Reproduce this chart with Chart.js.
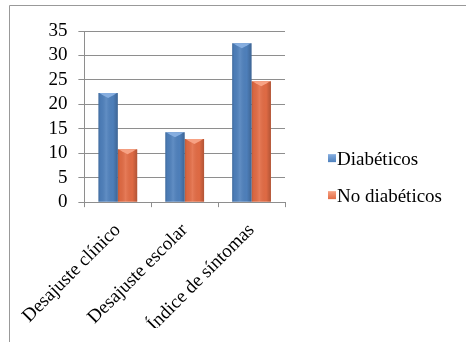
<!DOCTYPE html>
<html>
<head>
<meta charset="utf-8">
<script src="https://cdn.jsdelivr.net/npm/chart.js@4"></script>
<style>
  html, body { margin: 0; padding: 0; background: #fff; }
  canvas { display: block; }
</style>
</head>
<body>
<canvas id="c" width="466" height="342"></canvas>
<script>
// Categories and series values
const categories = ['Desajuste clínico', 'Desajuste escolar', 'Índice de síntomas'];
const seriesNames = ['Diabéticos', 'No diabéticos'];
const diabeticos = [22.3, 14.3, 32.5];
const noDiabeticos = [10.8, 12.9, 24.7];
const yMin = 0;
const yMax = 35;
const yStep = 5;

const FONT = "'Liberation Serif', 'Times New Roman', 'DejaVu Serif', serif";
const GRID = '#8e8e8e';
const BLUE = '#4F81BD';
const ORANGE = '#E36C45';
const BLUE_TOP = '#86AEE0';
const ORANGE_TOP = '#F7A284';

// Outer frame line (top and left edges)
const framePlugin = {
  id: 'frame',
  beforeDraw(chart) {
    const c = chart.ctx;
    c.save();
    c.strokeStyle = '#999';
    c.lineWidth = 1;
    c.beginPath();
    c.moveTo(9.5, chart.height);
    c.lineTo(9.5, 5.5);
    c.lineTo(chart.width, 5.5);
    c.stroke();
    c.restore();
  }
};

// Cylinder-like shading and a lighter top facet on every bar
const barShadePlugin = {
  id: 'barShade',
  afterDatasetsDraw(chart) {
    const c = chart.ctx;
    chart.data.datasets.forEach((ds, di) => {
      const meta = chart.getDatasetMeta(di);
      const topColor = di === 0 ? BLUE_TOP : ORANGE_TOP;
      meta.data.forEach(el => {
        const left = el.x - el.width / 2;
        const right = el.x + el.width / 2;
        const top = el.y;
        const bottom = el.base;
        const g = c.createLinearGradient(left, 0, right, 0);
        g.addColorStop(0, 'rgba(0,0,0,0.16)');
        g.addColorStop(0.12, 'rgba(0,0,0,0.04)');
        g.addColorStop(0.4, 'rgba(255,255,255,0.10)');
        g.addColorStop(0.75, 'rgba(0,0,0,0.02)');
        g.addColorStop(1, 'rgba(0,0,0,0.22)');
        c.save();
        c.fillStyle = g;
        c.fillRect(left, top, right - left, bottom - top);
        c.fillStyle = topColor;
        c.beginPath();
        c.moveTo(left + 1, top);
        c.lineTo(right - 1, top);
        c.lineTo(right - 4, top + 2);
        c.lineTo(el.x, top + 5);
        c.lineTo(left + 4, top + 2);
        c.closePath();
        c.fill();
        c.restore();
      });
    });
  }
};

// Legend to the right of the plot
const sideLegendPlugin = {
  id: 'sideLegend',
  afterDraw(chart) {
    const c = chart.ctx;
    const a = chart.chartArea;
    const x = a.right + 43;
    const rows = [a.bottom - 43, a.bottom - 6];
    c.save();
    c.font = '19px ' + FONT;
    c.textBaseline = 'middle';
    chart.data.datasets.forEach((ds, i) => {
      const y = rows[i];
      const g = c.createLinearGradient(0, y - 5, 0, y + 3);
      g.addColorStop(0, i === 0 ? BLUE_TOP : ORANGE_TOP);
      g.addColorStop(1, ds.backgroundColor);
      c.fillStyle = g;
      c.fillRect(x, y - 5, 8, 8);
      c.fillStyle = '#000';
      c.fillText(ds.label, x + 9, y + 1);
    });
    c.restore();
  }
};

new Chart(document.getElementById('c'), {
  type: 'bar',
  data: {
    labels: categories,
    datasets: [
      { label: seriesNames[0], data: diabeticos, backgroundColor: BLUE },
      { label: seriesNames[1], data: noDiabeticos, backgroundColor: ORANGE }
    ]
  },
  options: {
    responsive: false,
    animation: false,
    layout: { padding: { left: 35, top: 31, right: 181, bottom: 14 } },
    datasets: { bar: { categoryPercentage: 0.58, barPercentage: 1 } },
    plugins: {
      legend: { display: false },
      tooltip: { enabled: false }
    },
    scales: {
      x: {
        // labels sit a little lower than the reserved band; let them hang into the bottom margin
        afterFit(scale) { scale.height -= 20; },
        grid: { drawOnChartArea: false, drawTicks: true, tickLength: 5, color: GRID },
        border: { color: GRID },
        ticks: {
          color: '#000',
          font: { family: FONT, size: 19 },
          minRotation: 45,
          maxRotation: 45,
          padding: 12
        }
      },
      y: {
        min: yMin,
        max: yMax,
        grid: { color: GRID, tickLength: 6 },
        border: { color: GRID },
        ticks: {
          stepSize: yStep,
          autoSkip: false,
          color: '#000',
          font: { family: FONT, size: 19 },
          padding: 11
        }
      }
    }
  },
  plugins: [framePlugin, barShadePlugin, sideLegendPlugin]
});
</script>
</body>
</html>
